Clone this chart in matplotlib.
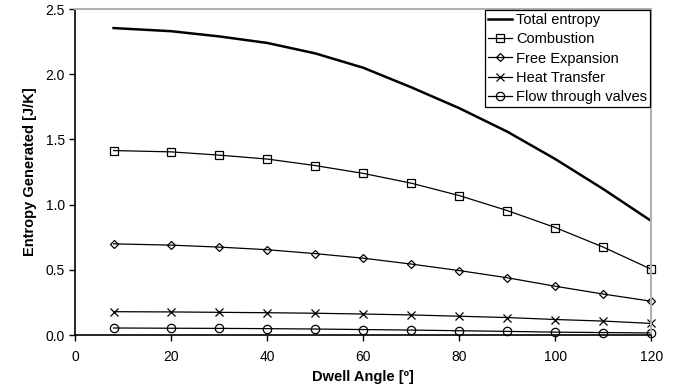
import numpy as np
import matplotlib.pyplot as plt

plt.rcParams['font.family'] = ['Liberation Sans', 'DejaVu Sans']

angle = [8, 20, 30, 40, 50, 60, 70, 80, 90, 100, 110, 120]
combustion = [1.415, 1.405, 1.38, 1.35, 1.30, 1.24, 1.165, 1.07, 0.955, 0.825, 0.675, 0.505]
free_exp = [0.70, 0.69, 0.675, 0.655, 0.625, 0.59, 0.545, 0.495, 0.44, 0.375, 0.315, 0.26]
heat = [0.18, 0.178, 0.175, 0.172, 0.168, 0.162, 0.155, 0.145, 0.135, 0.12, 0.108, 0.09]
valves = [0.055, 0.053, 0.052, 0.05, 0.047, 0.043, 0.039, 0.034, 0.029, 0.023, 0.02, 0.017]
total = [2.354, 2.33, 2.29, 2.24, 2.16, 2.05, 1.90, 1.74, 1.56, 1.35, 1.12, 0.875]

fig = plt.figure(figsize=(6.77, 3.92), dpi=100)
ax = fig.add_axes([0.111, 0.145, 0.851, 0.832])

ax.plot(angle, total, color='black', lw=1.8, label='Total entropy')
ax.plot(angle, combustion, color='black', lw=0.9, marker='s', ms=6,
        mfc='none', mew=0.9, label='Combustion', clip_on=False)
ax.plot(angle, free_exp, color='black', lw=0.9, marker='D', ms=4.5,
        mfc='none', mew=0.9, label='Free Expansion', clip_on=False)
ax.plot(angle, heat, color='black', lw=0.9, marker='x', ms=6,
        mew=0.9, label='Heat Transfer', clip_on=False)
ax.plot(angle, valves, color='black', lw=0.9, marker='o', ms=6,
        mfc='none', mew=0.9, label='Flow through valves', clip_on=False)

ax.set_xlim(0, 120)
ax.set_ylim(0, 2.5)
ax.set_xticks(np.arange(0, 121, 20))
ax.set_yticks(np.arange(0, 2.51, 0.5))
ax.set_yticklabels(['%.1f' % v for v in np.arange(0, 2.51, 0.5)])
ax.tick_params(labelsize=10, length=4, width=1)
ax.tick_params(axis='x', pad=7)

for s in ['top', 'right']:
    ax.spines[s].set_color('#b0b0b0')
    ax.spines[s].set_linewidth(1.5)
for s in ['left', 'bottom']:
    ax.spines[s].set_linewidth(1.2)

ax.set_xlabel('Dwell Angle [º]', fontsize=10.5, fontweight='bold', labelpad=4)
ax.set_ylabel('Entropy Generated [J/K]', fontsize=10.5, fontweight='bold', labelpad=6)

leg = ax.legend(loc='upper right', fontsize=10.5, fancybox=False, framealpha=1,
                edgecolor='black', borderpad=0.2, labelspacing=0.35,
                handlelength=1.6, handletextpad=0.3, borderaxespad=0.1)
leg.get_frame().set_linewidth(0.9)

fig.savefig('out.png', dpi=100)
